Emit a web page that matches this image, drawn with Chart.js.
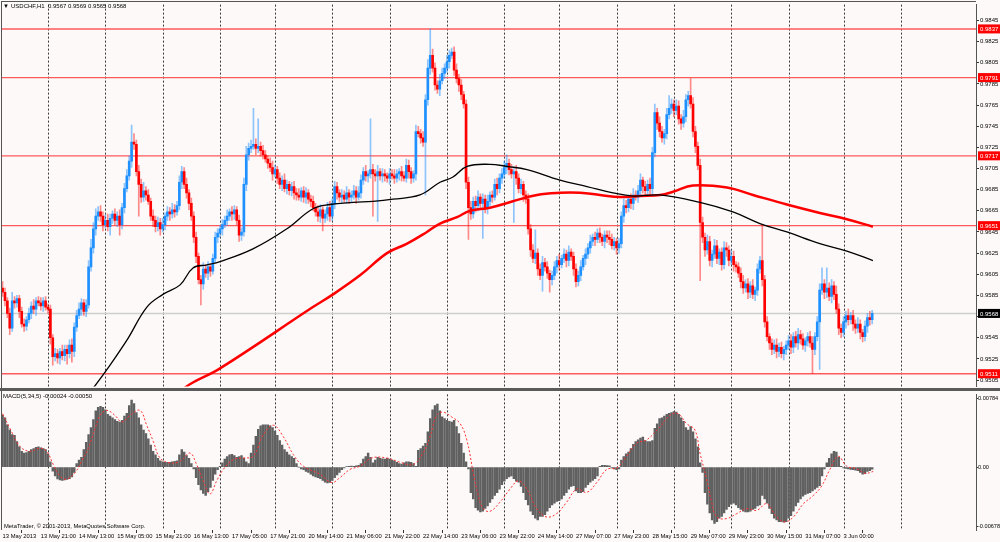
<!DOCTYPE html>
<html>
<head>
<meta charset="utf-8">
<script src="https://cdn.jsdelivr.net/npm/chart.js@4.4.0/dist/chart.umd.min.js"></script>
<style>
  html, body { margin: 0; padding: 0; background: #fdf9f9; }
  #wrap { position: relative; width: 1000px; height: 542px; overflow: hidden; background: #fdf9f9; }
  #price { position: absolute; left: 0; top: 0; }
  #macd { position: absolute; left: 0; top: 391px; }
</style>
</head>
<body>
<div id="wrap">
  <canvas id="price" width="1000" height="391"></canvas>
  <canvas id="macd" width="1000" height="151"></canvas>
</div>
<script>
// prices are in pips (0.0001), MACD values in 0.00001
const firstOpen = 9592;
const closes = [
  9588, 9580, 9568, 9554, 9580, 9578, 9582, 9570, 9558, 9556,
  9562, 9568, 9575, 9572, 9580, 9578, 9575, 9580, 9574, 9572,
  9545, 9527, 9530, 9526, 9532, 9528, 9534, 9530, 9538, 9532,
  9555, 9566, 9572, 9578, 9570, 9576, 9612, 9630, 9648, 9660,
  9664, 9660, 9652, 9656, 9650, 9658, 9662, 9656, 9660, 9652,
  9668, 9686, 9698, 9712, 9730, 9728, 9702, 9690, 9678, 9684,
  9680, 9674, 9660, 9656, 9650, 9654, 9648, 9652, 9660, 9664,
  9662, 9666, 9664, 9670, 9692, 9702, 9690, 9682, 9672, 9660,
  9640, 9622, 9600, 9596, 9610, 9606, 9612, 9608, 9620, 9640,
  9644, 9648, 9652, 9656, 9660, 9664, 9662, 9666, 9656, 9642,
  9645, 9690, 9718, 9724, 9726, 9728, 9724, 9726, 9722, 9718,
  9714, 9710, 9706, 9700, 9704, 9696, 9690, 9694, 9686, 9690,
  9684, 9688, 9682, 9680, 9678, 9684, 9678, 9682, 9676, 9674, 9668,
  9664, 9660, 9666, 9658, 9662, 9668, 9660, 9672, 9688, 9682,
  9678, 9680, 9676, 9682, 9678, 9680, 9684, 9678, 9682, 9694,
  9702, 9698, 9700, 9704, 9700, 9698, 9702, 9698, 9700, 9698,
  9696, 9700, 9698, 9696, 9700, 9702, 9698, 9696, 9708, 9702,
  9696, 9700, 9740, 9738, 9734, 9730, 9770, 9800, 9812, 9800,
  9784, 9780, 9788, 9795, 9800, 9806, 9812, 9815, 9798, 9790,
  9784, 9775, 9766, 9692, 9668, 9662, 9674, 9670, 9678, 9672,
  9676, 9668, 9674, 9680, 9678, 9690, 9686, 9696, 9700, 9706,
  9710, 9704, 9700, 9702, 9696, 9686, 9690, 9680, 9676, 9648,
  9628, 9620, 9625, 9610, 9604, 9616, 9612, 9606, 9600, 9604,
  9612, 9618, 9614, 9620, 9624, 9618, 9626, 9622, 9610, 9598,
  9604, 9612, 9620, 9624, 9630, 9636, 9640, 9638, 9644, 9640,
  9636, 9642, 9640, 9638, 9632, 9636, 9630, 9634, 9660, 9670, 9668,
  9676, 9672, 9680, 9678, 9684, 9694, 9688, 9684, 9690, 9686,
  9720, 9758, 9748, 9740, 9734, 9738, 9756, 9762, 9766, 9760,
  9764, 9752, 9748, 9754, 9770, 9774, 9766, 9740, 9726, 9708,
  9654, 9640, 9628, 9636, 9618, 9624, 9632, 9620, 9626, 9614,
  9630, 9628, 9618, 9622, 9614, 9612, 9606, 9598, 9592, 9596,
  9588, 9594, 9586, 9590, 9610, 9618, 9600, 9560, 9546, 9540,
  9534, 9538, 9532, 9536, 9530, 9534, 9538, 9542, 9536, 9546,
  9540, 9548, 9544, 9538, 9542, 9546, 9540, 9534, 9546, 9560,
  9590, 9596, 9588, 9592, 9584, 9594, 9586, 9572, 9554, 9550,
  9560, 9566, 9562, 9566, 9558, 9554, 9558, 9550, 9546, 9556,
  9564, 9562, 9568
];
const wickHi = [
  6,4,3,5,8,4,3,3,4,5, 3,5,4,6,3,4,5,3,4,3, 4,3,5,4,3,6,4,4,5,6, 4,5,6,4,3,5,6,8,6,7,
  5,6,4,5,6,4,3,5,4,6, 4,5,6,5,16,8,4,6,5,8, 4,5,3,6,4,5,4,6,3,5, 4,6,5,4,6,5,4,6,3,5,
  4,5,3,4,6,4,5,3,4,5, 4,3,5,4,6,3,5,4,3,5, 4,6,8,5,6,34,5,26,4,5, 4,3,5,6,4,3,5,4,6,4,
  3,4,5,4,6,3,4,5,3,4,5, 4,6,5,3,4,5,6,4,5,4, 3,5,4,6,3,4,5,4,6,5, 4,6,3,48,5,4,6,3,5,4,
  3,5,4,6,4,3,5,4,6,5, 4,3,6,5,4,6,5,8,25,6, 5,4,6,5,4,6,5,4,5,6, 4,5,3,4,5,6,4,5,6,3,
  5,4,6,3,4,5,6,4,5,6, 8,4,5,3,6,4,5,3,4,5, 4,5,22,4,5,6,4,5,3,4, 5,4,6,3,5,4,6,3,4,5,
  4,6,3,5,4,6,3,5,4,5, 3,4,4,6,5,4,3,5,4,6,5, 4,5,6,4,5,6,3,5,4,6, 5,8,4,6,5,4,6,12,5,4,
  6,5,4,6,5,4,16,6,5,4, 6,5,4,6,5,4,6,5,3,4, 6,5,4,6,5,3,4,5,6,4, 5,4,6,3,5,4,33,4,5,3,
  4,5,6,4,5,3,4,5,6,4, 5,6,4,5,3,4,5,6,4,5, 6,15,4,19,5,6,4,8,5,4, 5,4,6,3,5,4,6,4,3,5,
  4,6,3
];
const wickLo = [
  4,5,4,6,3,5,4,6,3,5, 4,3,5,4,6,3,4,5,3,4, 6,8,4,5,6,4,5,10,4,10, 5,4,3,6,4,5,3,4,5,6,
  4,5,6,3,4,8,5,4,6,10, 4,5,3,4,6,5,4,30,5,4, 5,3,4,6,5,4,6,3,5,4, 6,4,5,3,4,6,4,5,6,4,
  5,6,4,20,5,4,6,5,3,4, 5,4,6,3,5,4,6,5,4,6, 5,4,6,5,4,3,6,4,5,4, 3,5,4,6,3,5,4,6,3,5,
  4,5,6,5,3,4,5,6,4,5,3, 4,5,6,12,4,6,5,4,5,6, 4,5,3,4,6,5,4,6,3,5, 4,5,6,4,40,5,43,4,6,5,
  4,6,3,5,4,6,5,3,4,6, 5,4,6,3,5,4,50,5,6,4, 5,4,6,3,5,4,6,3,5,4, 6,5,4,6,30,5,4,6,5,4,
  33,5,6,4,5,3,6,4,5,4, 6,5,4,46,6,4,5,6,4,5, 6,4,5,6,4,15,4,5,12,5, 4,6,5,3,4,6,5,4,6,5,
  4,5,3,6,4,5,4,6,3,5, 4,6,5,5,3,4,6,5,4,6,5, 4,5,6,3,5,4,6,5,4,6, 5,4,6,5,4,6,5,4,5,6,
  4,5,6,4,5,6,4,5,6,4, 55,5,6,4,5,6,4,5,6,5, 4,6,5,4,6,5,4,6,5,4, 6,5,4,6,5,4,6,5,4,6,
  5,4,6,5,4,6,5,4,6,5, 4,6,5,4,6,5,4,23,5,4, 45,4,6,5,4,6,5,4,6,5, 4,6,5,4,6,5,4,6,5,4,
  6,5,4
];
const maBlackIdx = [34, 39.5, 43.7, 52.1, 60.4, 67.1, 74.3, 79.7, 85.6, 91, 104.8, 119, 129.9, 137, 146.7, 155,
  163.4, 174.7, 183.1, 188.5, 194.4, 204, 211.1, 219.5, 233.3, 244.6, 255.5, 263.9, 275.2, 291.9, 305.7,
  317, 328.3, 342.1, 353.4, 364.3];
const maBlackVal = [9486, 9502, 9515, 9543, 9574, 9586, 9595, 9611, 9614, 9617, 9629, 9648, 9667, 9671, 9673, 9674,
  9676, 9680, 9692, 9697, 9707, 9709, 9707, 9704, 9694, 9688, 9682, 9679, 9680, 9673, 9664,
  9653, 9645, 9634, 9627, 9618];
const maRedIdx = [72, 78.4, 91, 129.9, 138.3, 149.6, 160.9, 169.3, 177.6, 183.1, 190.2, 195.6, 204, 213.6, 223.7,
  233.3, 241.7, 250.1, 258.4, 266.8, 275.2, 280.6, 289, 303.2, 314.1, 328.3, 342.1, 353.4, 364.3];
const maRedVal = [9490, 9501, 9516, 9574, 9586, 9604, 9625, 9634, 9645, 9653, 9659, 9665, 9668, 9674, 9680,
  9682, 9682, 9680, 9678, 9679, 9680, 9683, 9689, 9687, 9680, 9671, 9663, 9657, 9650];
const levels = [9837, 9791, 9717, 9651, 9511];
const lastPrice = 9568;
const priceTicks = [9845, 9825, 9805, 9785, 9765, 9745, 9725, 9705, 9685, 9665, 9645, 9625, 9605, 9585, 9565, 9545, 9525, 9505];

const macdHist = [
  590, 560, 480, 420, 370, 360, 290, 230, 180, 160,
  165, 180, 200, 210, 225, 230, 220, 210, 200, 150,
  60, -45, -100, -135, -145, -150, -145, -140, -130, -110,
  -60, 40, 80, 110, 200, 280, 370, 450, 540, 640,
  680, 690, 680, 650, 600, 580, 560, 540, 520, 510,
  530, 580, 610, 700, 760, 720, 620, 560, 480, 420,
  380, 320, 250, 180, 140, 100, 70, 60, 55, 55,
  55, 60, 65, 70, 140, 200, 170, 130, 100, 40,
  -20, -120, -200, -260, -300, -320, -280, -230, -150, -80,
  -30, 10, 50, 90, 120, 140, 145, 130, 110, 120,
  130, 100, 60, 40, 160, 250, 350, 430, 470, 480,
  480, 480, 470, 450, 410, 360, 300, 250, 200, 170,
  140, 120, 100, 40, 0, -20, -30, -50, -60, -80, -100,
  -110, -120, -130, -150, -170, -180, -175, -150, -120, -90,
  -60, -30, -10, 5, 10, 12, 10, 15, 20, 40,
  90, 120, 160, 110, 50, 80, 110, 100, 95, 90,
  100, 90, 80, 70, 55, 40, 35, 50, 60, 60,
  55, 40, 10, 190, 210, 240, 270, 400, 550, 650,
  700, 715, 640, 570, 550, 530, 520, 510, 530, 460,
  380, 270, 160, 60, -20, -290, -360, -460, -490, -510,
  -500, -470, -440, -400, -360, -320, -290, -250, -200, -160,
  -130, -110, -100, -130, -160, -170, -220, -290, -370, -430,
  -500, -540, -580, -600, -560, -560, -540, -500, -460, -430,
  -410, -390, -380, -360, -320, -290, -250, -220, -210, -270,
  -290, -290, -280, -230, -200, -170, -150, -130, -100, 10,
  20, 20, 18, 15, -10, -20, -30, -20, 80, 120, 150,
  170, 210, 260, 290, 310, 330, 340, 300, 290, 290,
  300, 440, 490, 550, 560, 580, 600, 610, 620, 630,
  625, 600, 560, 520, 450, 420, 460, 400, 320, 230,
  50, -60, -290, -420, -520, -600, -640, -620, -580, -560,
  -520, -480, -450, -420, -410, -430, -460, -480, -500, -510,
  -510, -500, -480, -470, -440, -430, -320, -360, -410, -470,
  -530, -580, -600, -620, -620, -625, -620, -580, -550, -500,
  -440, -400, -360, -330, -310, -300, -290, -270, -250, -230,
  -210, -100, -20, 50, 100, 150, 180, 170, 110, 10,
  -10, -15, -20, -25, -30, -35, -40, -60, -80, -75,
  -50, -40, -24
];
const signalIdx = [0, 3.1, 7.3, 11.5, 15.7, 18.5, 21.2, 24, 26.8, 30.3, 33.1, 35.9, 38.7, 40.8, 43.6, 47, 49.9,
  53.3, 57.5, 60.3, 63.1, 65.9, 70.1, 74.3, 78.4, 81.2, 84, 86.8, 89.6, 92.4, 96.6, 100.8, 104.9,
  109.1, 113.3, 117.5, 121.7, 125.9, 132.9, 137.8, 141.2, 145.4, 149.6, 154.5, 160.8, 166.3, 171.8,
  176, 178.9, 181.7, 184.3, 188, 191.5, 194.3, 197, 199.1, 201.2, 204, 208.2, 212.4, 215.9, 219.4,
  223.6, 227.7, 231.9, 236.1, 240.3, 244.5, 248.7, 252.9, 257.1, 261.2, 265.4, 269.6, 275.2, 279.3,
  282.7, 286.3, 289.8, 291.9, 294.7, 296.8, 298.9, 303.1, 307.3, 311.5, 315.7, 319.8, 324, 327.5,
  331, 335.2, 339.3, 342.9, 346.3, 349.8, 353.3, 357.5, 361, 364.4];
const signalVal = [606, 439, 234, 179, 216, 179, 30, -100, -137, -63, 67, 216, 439, 588, 644, 588, 513,
  588, 644, 476, 290, 104, 48, 67, 160, 30, -156, -305, -156, -26, 86, 104, 123,
  365, 476, 346, 142, 11, -82, -175, -119, -26, 11, 104, 104, 56, 30,
  160, 346, 588, 625, 569, 494, 309, -63, -324, -472, -502, -398, -249, -156, -249,
  -472, -566, -528, -398, -249, -287, -175, -26, -8, 123, 271, 309, 458, 588,
  606, 494, 421, 160, -137, -398, -566, -584, -528, -472, -491, -416, -566, -622,
  -566, -416, -324, -212, -26, 123, 11, -19, -70, -50];
const macdTicks = [784, 0, -678];

const dayStarts = [19, 43, 67, 91, 114, 138, 162, 186, 210, 233, 257, 281, 305, 329, 352, 376];
const xLabelIdx = [0, 16, 32, 48, 64, 80, 96, 112, 128, 144, 160, 176, 192, 208, 224, 240, 256, 272, 288, 304, 320, 336, 352];
const xLabelText = ['13 May 2013', '13 May 21:00', '14 May 13:00', '15 May 05:00', '15 May 21:00', '16 May 13:00',
  '17 May 05:00', '17 May 21:00', '20 May 14:00', '21 May 06:00', '21 May 22:00', '22 May 14:00',
  '23 May 06:00', '23 May 22:00', '24 May 14:00', '27 May 07:00', '27 May 23:00', '28 May 15:00',
  '29 May 07:00', '29 May 23:00', '30 May 15:00', '31 May 07:00', '3 Jun 00:00'];

const FONT = '"Liberation Sans", Arial, sans-serif';
const BLUE = '#1e90ff', RED = '#ff0000';
const BLUE_W = 'rgba(30,144,255,0.5)', RED_W = 'rgba(255,0,0,0.45)';
const X_MIN = -0.25, X_MAX = 407.45;

const opens = closes.map((c, i) => i === 0 ? firstOpen : closes[i - 1]);
const bodies = closes.map((c, i) => ({ x: i, y: [opens[i], c] }));
const wicks = closes.map((c, i) => ({ x: i, y: [Math.min(opens[i], c) - wickLo[i], Math.max(opens[i], c) + wickHi[i]] }));
const isUp = i => closes[i] >= opens[i];

function drawDays(chart) {
  const { ctx, chartArea: a, scales: { x } } = chart;
  ctx.save();
  ctx.strokeStyle = '#3a3a3a';
  ctx.lineWidth = 1;
  ctx.setLineDash([2, 2]);
  dayStarts.forEach(d => {
    const px = Math.round(x.getPixelForValue(d)) + 0.5;
    ctx.beginPath();
    ctx.moveTo(px, a.top);
    ctx.lineTo(px, a.bottom);
    ctx.stroke();
  });
  ctx.restore();
}

const pricePlugin = {
  id: 'pricePanel',
  beforeDatasetsDraw(chart) {
    const { ctx, chartArea: a, scales: { y } } = chart;
    drawDays(chart);
    ctx.save();
    ctx.strokeStyle = '#cfcfcf';
    ctx.lineWidth = 1.5;
    let py = y.getPixelForValue(lastPrice);
    ctx.beginPath(); ctx.moveTo(a.left, py); ctx.lineTo(a.right, py); ctx.stroke();
    ctx.strokeStyle = '#ff5a5a';
    ctx.lineWidth = 1.4;
    levels.forEach(v => {
      py = y.getPixelForValue(v);
      ctx.beginPath(); ctx.moveTo(a.left, py); ctx.lineTo(a.right, py); ctx.stroke();
    });
    ctx.restore();
  },
  afterDraw(chart) {
    const { ctx, chartArea: a, scales: { y } } = chart;
    ctx.save();
    ctx.font = '6px ' + FONT;
    ctx.textBaseline = 'middle';
    const box = (v, bg) => {
      const py = y.getPixelForValue(v);
      ctx.fillStyle = bg;
      ctx.fillRect(a.right + 2, py - 4.5, 22, 9);
      ctx.fillStyle = '#fff';
      ctx.fillText((v / 10000).toFixed(4), a.right + 4, py + 0.5);
    };
    levels.forEach(v => box(v, '#ff0000'));
    box(lastPrice, '#000');
    // frame
    ctx.fillStyle = '#5a5a5a';
    ctx.fillRect(0, 388, 1000, 3);
    ctx.fillStyle = '#555';
    ctx.fillRect(1, 1, a.right - 1, 1);
    ctx.fillRect(1, 1, 1, 388);
    // header
    ctx.fillStyle = '#000';
    ctx.font = '6px ' + FONT;
    ctx.fillText('\u25BC', 3, 6.5);
    ctx.fillText('USDCHF,H1  0.9567 0.9569 0.9565 0.9568', 11, 6.5);
    ctx.restore();
  }
};

const macdPlugin = {
  id: 'macdPanel',
  beforeDatasetsDraw(chart) { drawDays(chart); },
  afterDraw(chart) {
    const { ctx, chartArea: a } = chart;
    ctx.save();
    ctx.fillStyle = '#555';
    ctx.fillRect(1, 0, 1, a.bottom);
    ctx.fillStyle = '#000';
    ctx.font = '6px ' + FONT;
    ctx.textBaseline = 'middle';
    ctx.fillText('MACD(5,34,5) -0.00024 -0.00050', 3, 5.5);
    ctx.font = '5.8px ' + FONT;
    ctx.fillText('MetaTrader, \u00A9 2001-2013, MetaQuotes Software Corp.', 4, a.bottom - 3.5);
    ctx.restore();
  }
};

new Chart(document.getElementById('price'), {
  type: 'bar',
  data: {
    datasets: [
      { type: 'line', data: maBlackIdx.map((x, k) => ({ x, y: maBlackVal[k] })), borderColor: '#000', borderWidth: 1.3,
        pointRadius: 0, tension: 0.4, order: 0 },
      { type: 'line', data: maRedIdx.map((x, k) => ({ x, y: maRedVal[k] })), borderColor: '#ff0000', borderWidth: 2.5,
        pointRadius: 0, tension: 0.4, order: 0 },
      { data: bodies, grouped: false, barThickness: 2, borderWidth: 0, order: 1,
        backgroundColor: ctx => isUp(ctx.dataIndex) ? BLUE : RED },
      { data: wicks, grouped: false, barThickness: 1, borderWidth: 0, order: 2,
        backgroundColor: ctx => isUp(ctx.dataIndex) ? BLUE_W : RED_W }
    ]
  },
  options: {
    responsive: false,
    animation: false,
    layout: { padding: { left: 2, top: 2, right: 0, bottom: 1 } },
    plugins: { legend: { display: false }, tooltip: { enabled: false } },
    scales: {
      x: { type: 'linear', min: X_MIN, max: X_MAX, offset: false, display: false },
      y: {
        position: 'right', min: 9499, max: 9860, beginAtZero: false,
        afterBuildTicks: s => { s.ticks = priceTicks.map(v => ({ value: v })); },
        afterFit: s => { s.width = 24; },
        ticks: { callback: v => (v / 10000).toFixed(4), font: { size: 6, family: FONT }, color: '#000', padding: 1 },
        grid: { drawOnChartArea: false, drawTicks: true, tickLength: 3, color: '#333' },
        border: { display: true, color: '#555' }
      }
    }
  },
  plugins: [pricePlugin]
});

new Chart(document.getElementById('macd'), {
  type: 'bar',
  data: {
    datasets: [
      { type: 'line', data: signalIdx.map((x, k) => ({ x, y: signalVal[k] })), borderColor: '#ff3030', borderWidth: 1,
        borderDash: [2, 2], pointRadius: 0, tension: 0.4, order: 0 },
      { data: macdHist.map((v, i) => ({ x: i, y: v })), grouped: false, barThickness: 1.8, borderWidth: 0,
        backgroundColor: '#606060', order: 1 }
    ]
  },
  options: {
    responsive: false,
    animation: false,
    layout: { padding: { left: 2, top: 1, right: 0, bottom: 0 } },
    plugins: { legend: { display: false }, tooltip: { enabled: false } },
    scales: {
      x: {
        type: 'linear', min: X_MIN, max: X_MAX, offset: false,
        afterBuildTicks: s => { s.ticks = xLabelIdx.map(v => ({ value: v })); },
        afterFit: s => { s.height = 12; },
        ticks: { autoSkip: false, maxRotation: 0, minRotation: 0, align: 'start', padding: 0,
          callback: (v, i) => xLabelText[i], font: { size: 5.8, family: FONT }, color: '#000' },
        grid: { drawOnChartArea: false, drawTicks: true, tickLength: 3, color: '#333' },
        border: { display: false }
      },
      y: {
        position: 'right', min: -714, max: 826, beginAtZero: false,
        afterBuildTicks: s => { s.ticks = macdTicks.map(v => ({ value: v })); },
        afterFit: s => { s.width = 24; },
        ticks: { callback: v => v === 0 ? '0.00' : (v / 100000).toFixed(5), font: { size: 5.6, family: FONT }, color: '#000', padding: 0 },
        grid: { drawOnChartArea: false, drawTicks: true, tickLength: 2, color: '#333' },
        border: { display: true, color: '#555' }
      }
    }
  },
  plugins: [macdPlugin]
});
</script>
</body>
</html>
